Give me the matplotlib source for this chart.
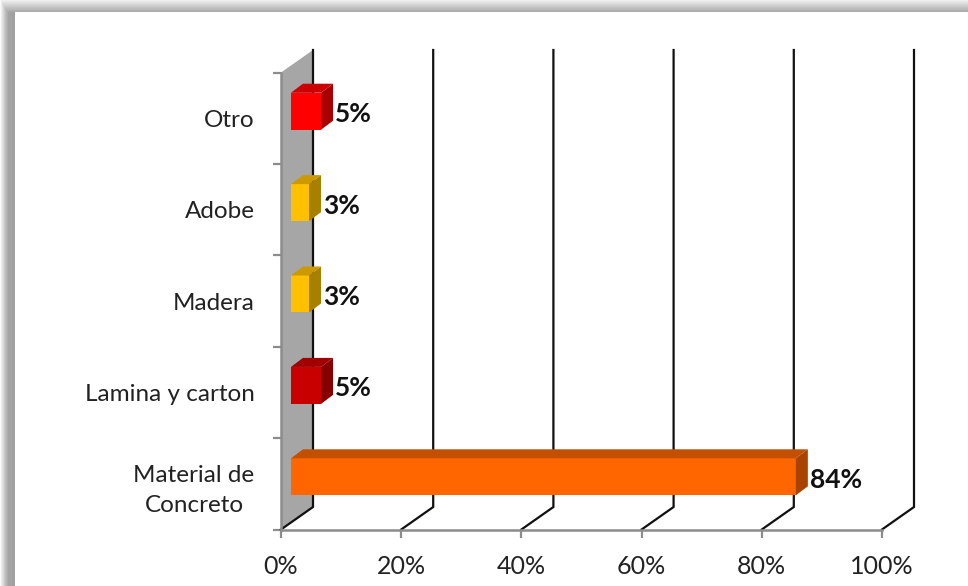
import matplotlib
matplotlib.use("Agg")
import matplotlib.pyplot as plt
import numpy as np
from matplotlib.patches import Polygon

categories = ["Material de\nConcreto", "Lamina y carton", "Madera", "Adobe", "Otro"]
values = [84, 5, 3, 3, 5]
labels = ["84%", "5%", "3%", "3%", "5%"]
front_colors = ["#ff6600", "#c80000", "#ffc000", "#ffc000", "#ff0000"]
top_colors = ["#c25000", "#a00000", "#cc9a00", "#cc9a00", "#cc0000"]
side_colors = ["#a84400", "#860000", "#a88000", "#a88000", "#a80000"]
x_ticks = [0, 20, 40, 60, 80, 100]
x_tick_labels = ["0%", "20%", "40%", "60%", "80%", "100%"]

W, H = 968, 586
plt.rcParams["font.family"] = ["Lato", "DejaVu Sans"]
fig = plt.figure(figsize=(W / 100, H / 100), dpi=100, facecolor="white")

# grey shadow along the top and left of the picture
bg = fig.add_axes([0, 0, 1, 1], zorder=0)
top_band = np.interp(np.arange(12), [0, 11], [238, 170])
left_band = np.interp(np.arange(15), [0, 5, 8, 14], [250, 190, 165, 160])
shade = np.full((H, W), 255.0)
shade[:12, :] = top_band[:, None]
shade[:, :15] = left_band[None, :]
shade[:12, :15] = np.maximum(top_band[:, None], left_band[None, :])
bg.imshow(shade, cmap="gray", vmin=0, vmax=255, aspect="auto")
bg.axis("off")

# axes box is the front of the 3d plot
left, right, top, bottom = 281, 882, 72.5, 529.5
ax = fig.add_axes([left / W, 1 - bottom / H, (right - left) / W, (bottom - top) / H], zorder=1)
ax.patch.set_alpha(0)
ax.set_xlim(0, 100)
ax.set_ylim(0, 5)
px = 100 / (right - left)
py = 5 / (bottom - top)

# depth of the floor and of the bars, in pixels
dx, dy = 32 * px, 22.5 * py
bar_dx, bar_dy = 12 * px, 9 * py
start = 10 * px
lift = 7 * py
bar_h = 37 * py

ax.add_patch(Polygon([(0, 0), (dx, dy), (dx, 5 + dy), (0, 5)], fc="#a6a6a6", ec="none", clip_on=False, zorder=1))
for t in x_ticks:
    ax.plot([t, t + dx, t + dx], [0, dy, 5 + dy], color="#111111", lw=1.6, clip_on=False, zorder=2,
            solid_joinstyle="miter")

for i, v in enumerate(values):
    y0 = i + 0.5 + lift - bar_h / 2
    y1 = y0 + bar_h
    x0 = start
    x1 = start + v
    ax.barh(y0, v, height=bar_h, left=x0, align="edge", color=front_colors[i], zorder=4)
    ax.add_patch(Polygon([(x0, y1), (x0 + bar_dx, y1 + bar_dy), (x1 + bar_dx, y1 + bar_dy), (x1, y1)],
                         fc=top_colors[i], ec="none", clip_on=False, zorder=4))
    ax.add_patch(Polygon([(x1, y0), (x1 + bar_dx, y0 + bar_dy), (x1 + bar_dx, y1 + bar_dy), (x1, y1)],
                         fc=side_colors[i], ec="none", clip_on=False, zorder=4))
    ax.text(x1 + bar_dx + 2 * px, (y0 + y1) / 2 - 3 * py, labels[i], ha="left", va="center",
            fontsize=19, fontweight="bold", color="#111111", zorder=5)

for s in ["top", "right"]:
    ax.spines[s].set_visible(False)
for s in ["left", "bottom"]:
    ax.spines[s].set_color("#8c8c8c")
    ax.spines[s].set_linewidth(1.8)
    ax.spines[s].set_zorder(3)

ax.set_xticks(x_ticks)
ax.set_xticklabels(x_tick_labels)
ax.tick_params(axis="x", length=6, width=1.6, color="#8c8c8c", labelsize=18, labelcolor="#222222", pad=12)
ax.set_yticks(range(6))
ax.set_yticklabels([])
ax.tick_params(axis="y", which="major", length=6, width=1.6, color="#8c8c8c")
ax.set_yticks(np.arange(5) + 0.5, minor=True)
ax.set_yticklabels(categories, minor=True, multialignment="center", linespacing=1.55)
ax.tick_params(axis="y", which="minor", length=0, labelsize=17.5, labelcolor="#222222", pad=19)

fig.savefig("out.png", dpi=100)
